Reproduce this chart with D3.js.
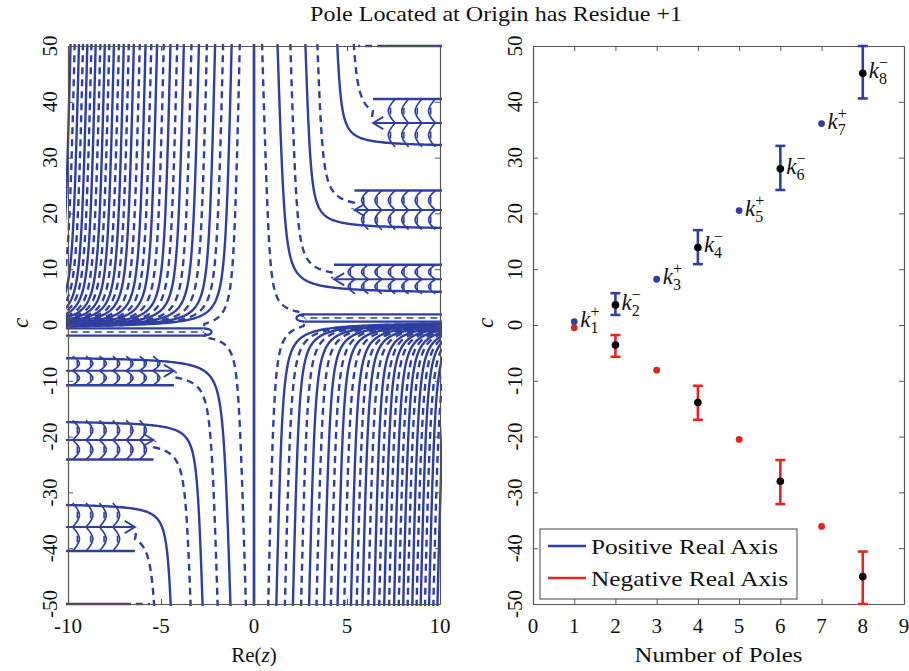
<!DOCTYPE html>
<html>
<head>
<meta charset="utf-8">
<script src="https://cdnjs.cloudflare.com/ajax/libs/d3/7.8.5/d3.min.js"></script>
<style>
  body{margin:0;background:#fff}
  svg{display:block}
</style>
</head>
<body>
<div id="chart"></div>
<script>
var W=909,H=671;
var blue="#2f3f9f", red="#e2261f";
var serif="'Liberation Serif','DejaVu Serif',serif";

// ---- left panel (contours); the other half is the point mirror (x,c)->(-x,-c)
// x of the fan lines at the top edge (c=50), upper-left quadrant
var fanSolid=[-9.8,-9.35,-8.9,-8.45,-7.96,-7.47,-6.94,-6.4,-5.77,-5.15,-4.43,-3.71,-2.9,-2.03,-1.14];
var fanDash=[-9.58,-9.13,-8.68,-8.2,-7.72,-7.2,-6.67,-6.08,-5.46,-4.79,-4.07,-3.3,-2.47,-1.6];
var fanDashToTip=-0.72;
// horizontal "fingers" in the lower-left quadrant (first one is the band near c=0)
var fingerTop=[-0.6,-5.6,-17.1,-31.9];
var fingerBot=[-1.9,-10.8,-24.1,-40.5];
var fingerTip=[-2.7,-4.3,-5.4,-6.4];
// x at the bottom edge (c=-50) of the curves that bend into the fingers
var hookSolid=[-1.2,-2.7,-4.37];      // become top edges of fingers 1..3
var hookSolidBend=[3.0,2.2,2.0];
var hookDash=[-0.4,-1.9,-3.33,-5.2];  // run into the tips of fingers 0..3
var edgeSolidEnd=-7.0, edgeDashEnd=-5.6;

// ---- right panel
var poles=[1,2,3,4,5,6,7,8];
var posC=[0.6,3.6,8.2,13.9,20.5,28.0,36.1,45.1];
var posLo=[null,1.8,null,10.9,null,24.2,null,40.6];
var posHi=[null,5.7,null,17.0,null,32.1,null,50.0];
var negC=[-0.5,-3.6,-8.1,-13.9,-20.5,-28.0,-36.1,-45.1];
var negLo=[null,-5.7,null,-17.0,null,-32.1,null,-50.0];
var negHi=[null,-1.8,null,-10.9,null,-24.2,null,-40.6];
var signs=["+","\u2212","+","\u2212","+","\u2212","+","\u2212"];
var legendLabels=["Positive Real Axis","Negative Real Axis"];

var leftXTicks=[-10,-5,0,5,10];
var rightXTicks=[0,1,2,3,4,5,6,7,8,9];
var yTicks=[-50,-40,-30,-20,-10,0,10,20,30,40,50];

var svg=d3.select("#chart").append("svg").attr("width",W).attr("height",H)
  .attr("font-family",serif).style("font-family",serif);

var xL=d3.scaleLinear().domain([-10,10]).range([68,440]);
var xR=d3.scaleLinear().domain([0,9]).range([533,904]);
var y=d3.scaleLinear().domain([-50,50]).range([604,46]);

svg.append("text").attr("x",496).attr("y",21).attr("text-anchor","middle").attr("fill","#111")
  .attr("font-size",21).attr("textLength",372).attr("lengthAdjust","spacingAndGlyphs")
  .text("Pole Located at Origin has Residue +1");

// ---------- left panel ----------
svg.append("clipPath").attr("id","clipL").append("rect")
  .attr("x",xL(-10)-2).attr("y",y(50)-2).attr("width",xL(10)-xL(-10)+4).attr("height",y(-50)-y(50)+4);
var cg=svg.append("g").attr("clip-path","url(#clipL)");

var line=d3.line().x(function(d){return xL(d[0]);}).y(function(d){return y(d[1]);});
var arcLine=d3.line().x(function(d){return xL(d[0]);}).y(function(d){return y(d[1]);}).curve(d3.curveBasis);

function mirror(p){return p.map(function(d){return [-d[0],-d[1]];});}
function draw(pts,dashed,gen,sw){
  [pts,mirror(pts)].forEach(function(p){
    cg.append("path").attr("d",(gen||line)(p)).attr("fill","none")
      .attr("stroke",blue).attr("stroke-width",sw||2.4)
      .attr("stroke-dasharray",dashed?"7,5":null);
  });
}

// lines coming down from the top, bending left into the band
function fanPath(L,h,a,xEnd,tip){
  var pts=[],n=300;
  for(var i=0;i<=n;i++){
    var t=i/n;
    var c=h+Math.exp(Math.log(50.5-h)*(1-t)+Math.log(0.004)*t);
    var x=L-0.006*(50-c)-a/(c-h);
    if(x<xEnd){ pts.push(tip?tip:[x,c]); break; }
    pts.push([x,c]);
  }
  return pts;
}
// lines coming up from the bottom, bending left under a finger edge
function hookPath(b,cT,a,xEnd,tip){
  var pts=[],n=300;
  for(var i=0;i<=n;i++){
    var t=i/n;
    var c=cT-Math.exp(Math.log(50.5+cT)*(1-t)+Math.log(0.004)*t);
    var x=b-0.008*(c+50)-a/(cT-c);
    if(x<xEnd){ pts.push(tip?tip:[x,c]); break; }
    pts.push([x,c]);
  }
  return pts;
}

// central line
draw([[0,-51],[0,51]],false);

// fan
fanSolid.forEach(function(L,i){
  var h=-0.3-0.3*i/(fanSolid.length-1);
  draw(fanPath(L,h,3.2,-10.5),false);
});
fanDash.forEach(function(L,i){
  var h=-0.32-0.3*i/(fanDash.length-1);
  draw(fanPath(L,h,3.2,-10.5),true);
});
var bandMid=(fingerTop[0]+fingerBot[0])/2;
draw(fanPath(fanDashToTip,bandMid,2.4,fingerTip[0],[fingerTip[0]-0.1,bandMid+0.15]),true);

// fingers
fingerTop.forEach(function(T,i){
  var B=fingerBot[i], X=fingerTip[i], M=(T+B)/2;
  draw([[-10.5,B],[X,B]],false);
  if(i===0){
    draw([[-10.5,T],[X,T]],false);
    draw([[X,T],[X+0.35,T-0.15],[X+0.45,M],[X+0.35,B+0.15],[X,B]],false,arcLine);
    draw([[-10.5,M],[X,M]],true,line,1.6);
    return;
  }
  draw([[-10.5,M],[X-0.1,M]],false,line,2);
  draw([[X-0.55,M+1.1],[X,M],[X-0.55,M-1.1]],false,line,1.8);
  for(var xj=-9.75;xj<X-0.55;xj+=0.72){
    var uq=(T+M)/2, lq=(M+B)/2;
    draw([[xj,T],[xj+0.55,uq],[xj,M]],false,arcLine,1.7);
    draw([[xj,M],[xj+0.55,lq],[xj,B]],false,arcLine,1.7);
    draw([[xj+0.25,uq+0.6],[xj+0.25,uq-0.6]],false,line,1.6);
    draw([[xj+0.25,lq+0.6],[xj+0.25,lq-0.6]],false,line,1.6);
  }
});

// hooks
hookSolid.forEach(function(b,i){
  draw(hookPath(b,fingerTop[i+1],hookSolidBend[i],-10.5),false);
});
hookDash.forEach(function(b,i){
  var M=(fingerTop[i]+fingerBot[i])/2, X=fingerTip[i];
  draw(hookPath(b,M,i===0?1.8:2.4,X,[X+0.1,M-0.15]),true);
});

// edge line at c=-50 (and mirrored at c=50)
draw([[-10.5,-50],[edgeSolidEnd,-50]],false);
draw([[edgeSolidEnd,-50],[edgeDashEnd,-50]],true);

// ---------- frames, ticks ----------
function frame(x,xt){
  var g=svg.append("g");
  var x0=x.range()[0], x1=x.range()[1];
  g.append("g").attr("transform","translate(0,"+y(-50)+")")
    .call(d3.axisBottom(x).tickValues(xt).tickSize(-5).tickSizeOuter(0).tickFormat(""));
  g.append("g").attr("transform","translate(0,"+y(50)+")")
    .call(d3.axisTop(x).tickValues(xt).tickSize(-5).tickSizeOuter(0).tickFormat(""));
  g.append("g").attr("transform","translate("+x0+",0)")
    .call(d3.axisLeft(y).tickValues(yTicks).tickSize(-5).tickSizeOuter(0).tickFormat(""));
  g.append("g").attr("transform","translate("+x1+",0)")
    .call(d3.axisRight(y).tickValues(yTicks).tickSize(-5).tickSizeOuter(0).tickFormat(""));
  g.selectAll("path.domain").attr("stroke","#555").attr("stroke-width",1.2);
  g.selectAll(".tick line").attr("stroke","#555").attr("stroke-width",1);

  svg.append("g").selectAll("text").data(xt).enter().append("text")
    .attr("x",function(d){return x(d);}).attr("y",633).attr("text-anchor","middle")
    .attr("font-size",21).attr("fill","#111").text(function(d){return d;});
  svg.append("g").selectAll("text").data(yTicks).enter().append("text")
    .attr("transform",function(d){return "translate("+(x0-11)+","+y(d)+") rotate(-90)";})
    .attr("text-anchor","middle").attr("font-size",21).attr("fill","#111").text(function(d){return d;});
  svg.append("text").attr("transform","translate("+(x0-40)+","+(y(0)-2)+") rotate(-90)")
    .attr("text-anchor","middle").attr("font-size",23).attr("font-style","italic").attr("fill","#111").text("c");
}
frame(xL,leftXTicks);
frame(xR,rightXTicks);

var rl=svg.append("text").attr("x",xL(0)).attr("y",662).attr("text-anchor","middle").attr("font-size",21).attr("fill","#111");
rl.append("tspan").text("Re(");
rl.append("tspan").attr("font-style","italic").text("z");
rl.append("tspan").text(")");
svg.append("text").attr("x",(xR(0)+xR(9))/2).attr("y",662).attr("text-anchor","middle").attr("fill","#111")
  .attr("font-size",21).attr("textLength",168).attr("lengthAdjust","spacingAndGlyphs").text("Number of Poles");

// ---------- right panel ----------
var rp=svg.append("g");
function bars(lo,hi,col){
  poles.forEach(function(n,i){
    if(lo[i]===null) return;
    var px=xR(n);
    rp.append("line").attr("x1",px).attr("x2",px).attr("y1",y(lo[i])).attr("y2",y(hi[i]))
      .attr("stroke",col).attr("stroke-width",2.6);
    [lo[i],hi[i]].forEach(function(v){
      rp.append("line").attr("x1",px-5).attr("x2",px+5).attr("y1",y(v)).attr("y2",y(v))
        .attr("stroke",col).attr("stroke-width",2.6);
    });
  });
}
bars(posLo,posHi,blue);
bars(negLo,negHi,red);

function dots(vals,lo,col){
  poles.forEach(function(n,i){
    rp.append("circle").attr("cx",xR(n)).attr("cy",y(vals[i])).attr("r",lo[i]===null?3.4:3.8)
      .attr("fill",lo[i]===null?col:"#000");
  });
}
dots(negC,negLo,red);
dots(posC,posLo,blue);

poles.forEach(function(n,i){
  var t=rp.append("text").attr("x",xR(n)+6).attr("y",y(posC[i])+5).attr("font-size",23).attr("fill","#111");
  t.append("tspan").attr("font-style","italic").text("k");
  t.append("tspan").attr("font-size",16).attr("dy",6).text(n);
  t.append("tspan").attr("font-size",16).attr("dx",-8).attr("dy",-16).text(signs[i]);
});

// legend
var lg=svg.append("g");
lg.append("rect").attr("x",540).attr("y",529).attr("width",257).attr("height",70)
  .attr("fill","#fff").attr("stroke","#444").attr("stroke-width",1);
[blue,red].forEach(function(col,i){
  var yy=546+i*32;
  lg.append("line").attr("x1",548).attr("x2",586).attr("y1",yy).attr("y2",yy)
    .attr("stroke",col).attr("stroke-width",2.4);
  lg.append("text").attr("x",591).attr("y",yy+8).attr("font-size",21).attr("fill","#111")
    .attr("textLength",i===0?187:197).attr("lengthAdjust","spacingAndGlyphs").text(legendLabels[i]);
});
</script>
</body>
</html>
